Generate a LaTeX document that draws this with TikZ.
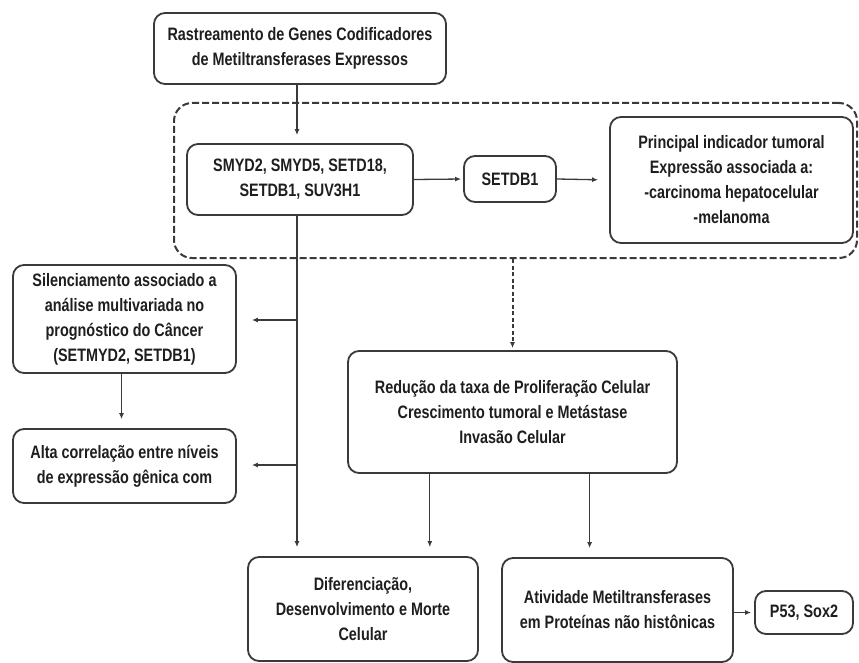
\documentclass[tikz,border=0pt]{standalone}
\usepackage{fontspec}
\setmainfont{Liberation Sans}[FakeStretch=0.8]
\usetikzlibrary{arrows.meta,calc}
\definecolor{ln}{HTML}{3A3A3A}
\definecolor{tx}{HTML}{1E1E1E}
\begin{document}
\begin{tikzpicture}[x=1pt,y=-1pt,
  box/.style={draw=ln,line width=1.8pt,rounded corners=11pt,align=center,inner sep=2pt,
    font=\fontsize{18}{25}\selectfont\bfseries,text=tx},
  conn/.style={draw=ln,line width=1.3pt,-{Latex[length=6pt,width=5pt]}},
  plain/.style={draw=ln,line width=1.3pt}]
\useasboundingbox[fill=white] (0,0) rectangle (859,663);
\node[box,minimum width=292pt,minimum height=71pt] (top) at (300,48.5)
  {Rastreamento de Genes Codificadores\\de Metiltransferases Expressos};
\node[draw=ln,line width=2pt,dash pattern=on 7pt off 3pt,rounded corners=18pt,
  minimum width=683pt,minimum height=155pt] (dash) at (515.5,180.5) {};
\node[box,minimum width=226pt,minimum height=71pt] (smyd) at (300,179.5)
  {SMYD2, SMYD5, SETD18,\\SETDB1, SUV3H1};
\node[box,minimum width=92pt,minimum height=46pt] (setdb) at (510,179) {SETDB1};
\node[box,minimum width=243pt,minimum height=126pt] (princ) at (731.5,180)
  {Principal indicador tumoral\\Expressão associada a:\\-carcinoma hepatocelular\\-melanoma};
\node[box,minimum width=223pt,minimum height=108pt] (silen) at (124.5,319)
  {Silenciamento associado a\\análise multivariada no\\prognóstico do Câncer\\(SETMYD2, SETDB1)};
\node[box,minimum width=223pt,minimum height=74pt] (alta) at (124.5,466)
  {Alta correlação entre níveis\\de expressão gênica com};
\node[box,minimum width=329pt,minimum height=122pt] (red) at (512.5,412)
  {Redução da taxa de Proliferação Celular\\Crescimento tumoral e Metástase\\Invasão Celular};
\node[box,minimum width=230pt,minimum height=104pt] (dif) at (363,609)
  {Diferenciação,\\Desenvolvimento e Morte\\Celular};
\node[box,minimum width=231pt,minimum height=104pt] (ativ) at (617.5,610)
  {Atividade Metiltransferases\\em Proteínas não histônicas};
\node[box,minimum width=98pt,minimum height=43pt] (p53) at (804,612.5) {P53, Sox2};

\coordinate (v0) at (297,215);
\coordinate (j1) at (297,320);
\coordinate (j2) at (297,465);
\draw[conn,shorten >=8pt] (top.south -| v0) -- (smyd.north -| v0);
\draw[conn,shorten >=2pt] (smyd.east) -- (setdb.west);
\draw[conn,shorten >=11pt] (setdb.east) -- (princ.west);
\draw[conn,line width=2pt,dash pattern=on 4pt off 2.5pt,shorten >=2pt] (dash.south -| red.north) -- (red.north);
\draw[conn,shorten >=9pt] (smyd.south -| v0) -- (dif.north -| v0);
\draw[conn,shorten >=15pt] (j1) -- (j1 -| silen.east);
\draw[conn,shorten >=15pt] (j2) -- (j2 -| alta.east);
\draw[conn,shorten >=9pt] ($(silen.south)+(-3,0)$) -- ($(alta.north)+(-3,0)$);
\coordinate (r1) at ($(red.south west)!0.25!(red.south east)$);
\coordinate (r2) at ($(red.south west)!0.733!(red.south east)$);
\draw[conn,shorten >=9pt] (r1) -- (r1 |- dif.north);
\draw[conn,shorten >=9pt] (r2) -- (r2 |- ativ.north);
\draw[conn,shorten >=3pt] (ativ.east |- p53.west) -- (p53.west);
\end{tikzpicture}
\end{document}
